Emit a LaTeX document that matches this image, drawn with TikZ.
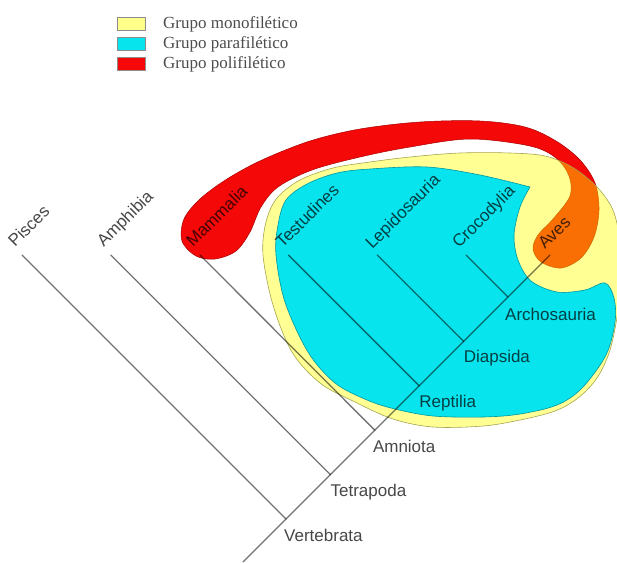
\documentclass[tikz,border=0pt]{standalone}
\usepackage{fontspec}
\setmainfont{Liberation Serif}
\newfontfamily\arialf{Liberation Sans}
\definecolor{bandred}{RGB}{245,8,8}
\definecolor{bandredline}{RGB}{170,0,0}
\definecolor{cyanfill}{RGB}{8,228,238}
\definecolor{cyanline}{RGB}{0,150,160}
\definecolor{yellowfill}{RGB}{255,255,0}
\definecolor{yellowline}{RGB}{165,165,80}
\definecolor{legyellow}{RGB}{255,255,140}
\begin{document}
\begin{tikzpicture}[x=1pt,y=-1pt,
  treeline/.style={draw=black!55, line width=1.3pt, line cap=round},
  tiplabel/.style={font=\arialf\fontsize{17}{20}\selectfont, text=black!72, rotate=45, anchor=base west, inner sep=0pt},
  cladelabel/.style={font=\arialf\fontsize{17}{20}\selectfont, text=black!72, anchor=base west, inner sep=0pt},
  legtext/.style={font=\fontsize{17}{20}\selectfont, text=black!70, anchor=base west, inner sep=0pt},
  legbox/.style={draw=black!45, line width=0.6pt, minimum width=28pt, minimum height=13pt, inner sep=0pt}
]
\useasboundingbox (0,0) rectangle (617,562);

% ---------- legend ----------
\node[legbox, fill=legyellow] (ly) at (131,24) {};
\node[legbox, fill=cyanfill] (lc) at (131,44) {};
\node[legbox, fill=bandred] (lr) at (131,63.5) {};
\node[legtext] (tly) at (163,28.5) {Grupo monofilético};
\node[legtext] (tlc) at (163,48.5) {Grupo parafilético};
\node[legtext] (tlr) at (163,68.5) {Grupo polifilético};

% ---------- polyphyletic band (red) ----------
\filldraw[fill=bandred, draw=bandredline, line width=0.5pt]
  plot[smooth cycle, tension=0.55] coordinates {
  (196,256) (182,241) (184,219) (200,199) (227,179) (262,160) (310,141)
  (360,129) (420,122) (480,121) (525,127) (556,141) (580,160)
  (595,183) (599,210) (594,237) (581,258) (561,268) (541,262) (533,249)
  (538,235) (553,219) (570,196) (569,176) (556,158) (530,146)
  (470,139) (410,147) (360,157) (312,170) (278,187) (261,207)
  (250,232) (236,251) (215,259)};

% ---------- monophyletic group (yellow, translucent) ----------
\filldraw[fill=yellowfill, fill opacity=0.42, draw=yellowline, draw opacity=1, line width=0.6pt]
  plot[smooth cycle, tension=0.55] coordinates {
  (263,255) (266,222) (277,198) (300,180) (333,168) (370,162) (410,157)
  (460,153) (510,153) (545,156) (572,167) (596,186) (612,208) (619,235)
  (620,270) (618,310) (610,350) (597,378) (578,398) (555,411) (520,420)
  (483,426) (433,427) (393,419) (355,402) (320,383) (292,352) (273,305)};

% ---------- paraphyletic group (cyan) ----------
\filldraw[fill=cyanfill, draw=cyanline, line width=0.6pt]
  plot[smooth, tension=0.55] coordinates {
  (530,187) (520,207) (514,235) (518,260) (531,281) (557,292) (585,290)
  (605,283) (614,298) (615,322) (606,355) (582,388) (557,405) (520,414)
  (483,417) (433,416) (395,409) (367,400) (335,383) (308,352) (285,302)
  (276,255) (278,225) (286,200) (307,184) (337,173) (370,169) (427,167)
  (480,175) (530,187)} -- cycle;

% ---------- tree ----------
\coordinate (base)  at (243,562);
\coordinate (vert)  at (286,519);
\coordinate (tetra) at (330.4,474.6);
\coordinate (amnio) at (374.8,430.2);
\coordinate (rept)  at (419.2,385.8);
\coordinate (diap)  at (463.6,341.4);
\coordinate (archo) at (508,297);
\coordinate (aves)  at (550,255);
\coordinate (pisc)  at (22,255);
\coordinate (amph)  at (110.8,255);
\coordinate (mamm)  at (200,255);
\coordinate (test)  at (288.4,255);
\coordinate (lepi)  at (377.2,255);
\coordinate (croc)  at (466,255);

\begin{scope}[blend mode=multiply]
\draw[treeline] (base) -- (vert) -- (tetra) -- (amnio) -- (rept) -- (diap) -- (archo) -- (aves);
\draw[treeline] (vert) -- (pisc);
\draw[treeline] (tetra) -- (amph);
\draw[treeline] (amnio) -- (mamm);
\draw[treeline] (rept) -- (test);
\draw[treeline] (diap) -- (lepi);
\draw[treeline] (archo) -- (croc);

\node[tiplabel] (lpisc) at ([shift={(-7,-7)}]pisc) {Pisces};
\node[tiplabel] (lamph) at ([shift={(-7,-7)}]amph) {Amphibia};
\node[tiplabel] (lmamm) at ([shift={(-7,-7)}]mamm) {Mammalia};
\node[tiplabel] (ltest) at ([shift={(-6,-6)}]test) {Testudines};
\node[tiplabel] (llepi) at ([shift={(-5,-5)}]lepi) {Lepidosauria};
\node[tiplabel] (lcroc) at ([shift={(-7,-6)}]croc) {Crocodylia};
\node[tiplabel] (laves) at ([shift={(-5,-5)}]aves) {Aves};

\node[cladelabel] (lvert)  at ([shift={(-2,22)}]vert)  {Vertebrata};
\node[cladelabel] (ltetra) at ([shift={(0,22)}]tetra)  {Tetrapoda};
\node[cladelabel] (lamnio) at ([shift={(-2,22)}]amnio) {Amniota};
\node[cladelabel] (lrept)  at ([shift={(0,22)}]rept)   {Reptilia};
\node[cladelabel] (ldiap)  at ([shift={(0,21)}]diap)   {Diapsida};
\node[cladelabel] (larcho) at ([shift={(-3,23)}]archo) {Archosauria};
\end{scope}
\end{tikzpicture}
\end{document}
